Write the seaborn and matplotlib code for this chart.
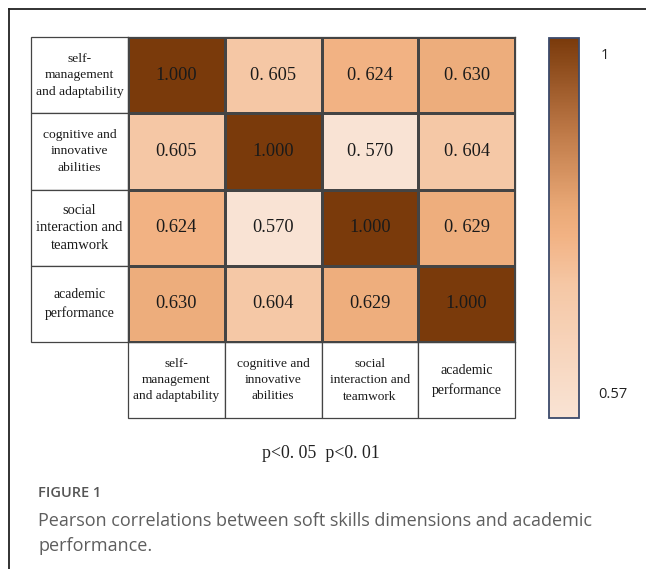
import numpy as np
import pandas as pd
import seaborn as sns
import matplotlib
matplotlib.use("Agg")
import matplotlib.pyplot as plt
from matplotlib.colors import LinearSegmentedColormap, FuncNorm
from matplotlib.patches import Rectangle
from matplotlib.lines import Line2D

# ---------------- data ----------------
dimensions = ["self-\nmanagement\nand adaptability",
              "cognitive and\ninnovative\nabilities",
              "social\ninteraction and\nteamwork",
              "academic\nperformance"]
row_self = [1.000, 0.605, 0.624, 0.630]
row_cog = [0.605, 1.000, 0.570, 0.604]
row_soc = [0.624, 0.570, 1.000, 0.629]
row_acad = [0.630, 0.604, 0.629, 1.000]
annot_labels = [["1.000", "0. 605", "0. 624", "0. 630"],
                ["0.605", "1.000", "0. 570", "0. 604"],
                ["0.624", "0.570", "1.000", "0. 629"],
                ["0.630", "0.604", "0.629", "1.000"]]
cbar_labels = ["1", "0.57"]
p_note = "p<0. 05  p<0. 01"
fig_label = "FIGURE 1"
caption = "Pearson correlations between soft skills dimensions and academic\nperformance."

corr = pd.DataFrame([row_self, row_cog, row_soc, row_acad],
                    index=dimensions, columns=dimensions)

# ---------------- style ----------------
W, H = 646, 569
fig = plt.figure(figsize=(W / 100, H / 100), dpi=100)
fig.patch.set_facecolor("white")

def fx(px):
    return px / W

def fy(py):
    return 1 - py / H

cmap = LinearSegmentedColormap.from_list(
    "brown", [(0.0, "#F9E3D4"), (0.35, "#F5C7A5"), (0.48, "#F2B283"),
              (0.55, "#EAA977"), (0.75, "#BF7A48"), (1.0, "#7A3A0B")])
_vals = [0.57, 0.605, 0.624, 0.63, 1.0]
_pos = [0.0, 0.35, 0.48, 0.52, 1.0]
norm = FuncNorm((lambda v: np.interp(v, _vals, _pos),
                 lambda p: np.interp(p, _pos, _vals)), vmin=0.57, vmax=1.0)

ax = fig.add_axes([fx(128), fy(342), fx(515) - fx(128), fy(37) - fy(342)])
cax = fig.add_axes([fx(549), fy(418), fx(579) - fx(549), fy(38) - fy(418)])

edge = "#444444"
sns.heatmap(corr, ax=ax, cbar_ax=cax, cmap=cmap, norm=norm,
            annot=np.array(annot_labels), fmt="",
            annot_kws={"color": "#1a1a1a", "fontsize": 13.2,
                       "family": "Liberation Serif"},
            linewidths=0.9, linecolor=edge)
ax.set_xticks([])
ax.set_yticks([])
ax.set_xlabel("")
ax.set_ylabel("")
for s in ax.spines.values():
    s.set_visible(True)
    s.set_color(edge)
    s.set_linewidth(0.9)

left_sizes = [9.7, 9.7, 10.5, 9.9]
left_spacing = [1.5, 1.5, 1.45, 1.55]
bottom_sizes = [9.65, 9.6, 9.6, 10.0]
bottom_spacing = [1.45, 1.45, 1.5, 1.6]
for i, lab in enumerate(dimensions):
    ax.add_patch(Rectangle((-1, i), 1, 1, facecolor="white", edgecolor=edge,
                           lw=0.9, clip_on=False))
    ax.text(-0.5, i + 0.5, lab, ha="center", va="center", fontsize=left_sizes[i],
            family="Liberation Serif", color="#1a1a1a",
            linespacing=left_spacing[i], clip_on=False)
for j, lab in enumerate(dimensions):
    ax.add_patch(Rectangle((j, 4), 1, 1, facecolor="white", edgecolor=edge,
                           lw=0.9, clip_on=False))
    ax.text(j + 0.5, 4.5, lab, ha="center", va="center", fontsize=bottom_sizes[j],
            family="Liberation Serif", color="#1a1a1a",
            linespacing=bottom_spacing[j], clip_on=False)

# colorbar
cbar = ax.collections[0].colorbar
cbar.set_ticks([])
cbar.outline.set_edgecolor("#3B4A6B")
cbar.outline.set_linewidth(1.3)
cax.text(1.72, 0.955, cbar_labels[0], transform=cax.transAxes, ha="left",
         va="center", fontsize=10.5, family="Open Sans", color="#222222")
cax.text(1.63, 0.063, cbar_labels[1], transform=cax.transAxes, ha="left",
         va="center", fontsize=10.5, family="Open Sans", color="#222222")

# note and caption
fig.text(fx(321), fy(453), p_note, ha="center", va="center", fontsize=12.8,
         family="Liberation Serif", color="#222222")
fig.text(fx(38), fy(493), fig_label, ha="left", va="center", fontsize=10.5,
         family="Open Sans", fontweight="semibold", color="#555555")
fig.text(fx(38), fy(533.5), caption, ha="left", va="center", fontsize=13.0,
         family="Open Sans", color="#5e5e5e", linespacing=1.55)

# frame lines
fig.add_artist(Line2D([fx(9), 1.0], [fy(9), fy(9)], color="#222222", lw=1.3))
fig.add_artist(Line2D([fx(9), fx(9)], [fy(9), 0.0], color="#222222", lw=1.3))

fig.savefig("out.png", dpi=100, facecolor="white")
